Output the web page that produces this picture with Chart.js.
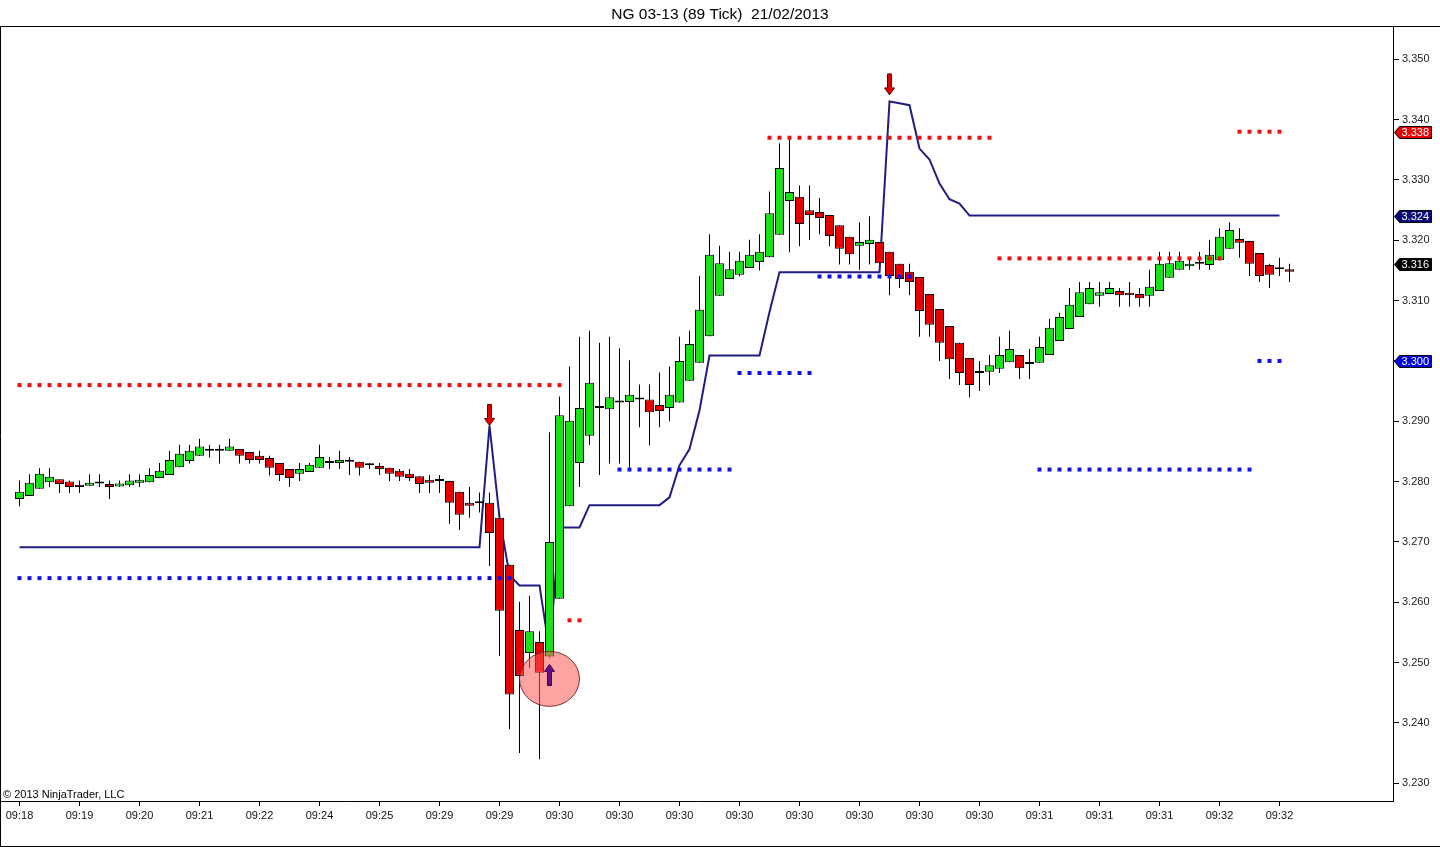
<!DOCTYPE html>
<html>
<head>
<meta charset="utf-8">
<title>NG 03-13 (89 Tick) 21/02/2013</title>
<script src="https://cdn.jsdelivr.net/npm/chart.js@4.4.1/dist/chart.umd.min.js"></script>
<style>
  html, body { margin: 0; padding: 0; background: #fff; }
  canvas { display: block; }
</style>
</head>
<body>
<canvas id="ngChart" width="1440" height="847"></canvas>
<script>
// x axis labels, one every 6 bars
const timeLabels = ['09:18','09:19','09:20','09:21','09:22','09:24','09:25','09:29','09:29','09:30','09:30',
  '09:30','09:30','09:30','09:30','09:30','09:30','09:31','09:31','09:31','09:32','09:32'];
const barsPerLabel = 6;

// 89 tick bars
const opens = [3.2771,3.2776,3.2788,3.2799,3.2804,3.2800,3.2795,3.2793,3.2797,3.2796,
  3.2792,3.2794,3.2798,3.2799,3.2806,3.2811,3.2824,3.2834,3.2843,3.2851,
  3.2851,3.2851,3.2854,3.2849,3.2843,3.2839,3.2831,3.2821,3.2813,3.2816,
  3.2823,3.2831,3.2831,3.2833,3.2833,3.2827,3.2826,3.2823,3.2818,3.2813,
  3.2809,3.2803,3.2801,3.2801,3.2783,3.2765,3.2764,3.2765,3.2740,3.2662,
  3.2554,3.2516,3.2534,3.2510,3.2606,3.2759,3.2831,3.2876,3.2922,3.2920,
  3.2931,3.2932,3.2936,3.2936,3.2927,3.2922,3.2931,3.2967,3.2997,3.3041,
  3.3108,3.3136,3.3143,3.3154,3.3164,3.3172,3.3209,3.3265,3.3272,3.3250,
  3.3247,3.3242,3.3225,3.3206,3.3191,3.3194,3.3197,3.3181,3.3161,3.3148,
  3.3139,3.3111,3.3086,3.3058,3.3030,3.3005,3.2983,3.2982,3.2987,3.2998,
  3.3010,3.2998,3.2997,3.3010,3.3033,3.3053,3.3073,3.3094,3.3108,3.3111,
  3.3116,3.3113,3.3111,3.3108,3.3116,3.3138,3.3151,3.3157,3.3161,3.3159,
  3.3167,3.3186,3.3202,3.3199,3.3179,3.3159,3.3152,3.3152];
const highs = [3.2802,3.2812,3.2822,3.2822,3.2804,3.2802,3.2802,3.2812,3.2812,3.2802,
  3.2802,3.2812,3.2812,3.2822,3.2831,3.2851,3.2861,3.2861,3.2871,3.2861,
  3.2861,3.2871,3.2854,3.2849,3.2851,3.2843,3.2831,3.2821,3.2831,3.2831,
  3.2861,3.2841,3.2851,3.2841,3.2833,3.2831,3.2831,3.2823,3.2821,3.2821,
  3.2809,3.2811,3.2811,3.2801,3.2783,3.2791,3.2782,3.2782,3.2740,3.2662,
  3.2601,3.2611,3.2552,3.2882,3.2941,3.2991,3.3040,3.3050,3.3030,3.3040,
  3.3021,3.3001,3.2961,3.2961,3.2981,3.2991,3.3040,3.3050,3.3141,3.3210,
  3.3191,3.3181,3.3181,3.3201,3.3210,3.3281,3.3361,3.3368,3.3291,3.3291,
  3.3270,3.3242,3.3225,3.3206,3.3230,3.3240,3.3197,3.3181,3.3161,3.3161,
  3.3139,3.3111,3.3086,3.3058,3.3030,3.3005,3.3000,3.3010,3.3040,3.3050,
  3.3010,3.3020,3.3040,3.3070,3.3080,3.3121,3.3131,3.3131,3.3131,3.3131,
  3.3121,3.3131,3.3121,3.3151,3.3181,3.3181,3.3181,3.3171,3.3181,3.3201,
  3.3220,3.3230,3.3220,3.3199,3.3179,3.3161,3.3171,3.3161];
const lows = [3.2759,3.2776,3.2788,3.2791,3.2781,3.2781,3.2781,3.2793,3.2791,3.2771,
  3.2791,3.2791,3.2791,3.2799,3.2806,3.2811,3.2824,3.2830,3.2843,3.2840,
  3.2830,3.2851,3.2830,3.2830,3.2830,3.2810,3.2801,3.2791,3.2801,3.2816,
  3.2823,3.2821,3.2821,3.2811,3.2810,3.2821,3.2811,3.2801,3.2801,3.2801,
  3.2781,3.2781,3.2781,3.2730,3.2720,3.2740,3.2749,3.2660,3.2511,3.2390,
  3.2350,3.2491,3.2340,3.2510,3.2606,3.2759,3.2791,3.2861,3.2811,3.2830,
  3.2830,3.2823,3.2890,3.2860,3.2890,3.2900,3.2931,3.2967,3.2997,3.3041,
  3.3108,3.3136,3.3140,3.3154,3.3150,3.3172,3.3209,3.3180,3.3190,3.3201,
  3.3210,3.3190,3.3160,3.3160,3.3151,3.3160,3.3162,3.3109,3.3121,3.3109,
  3.3040,3.3040,3.3000,3.2970,3.2960,3.2940,3.2950,3.2960,3.2980,3.2998,
  3.2970,3.2970,3.2997,3.3010,3.3033,3.3053,3.3073,3.3094,3.3090,3.3111,
  3.3090,3.3090,3.3090,3.3090,3.3116,3.3138,3.3151,3.3151,3.3151,3.3151,
  3.3167,3.3186,3.3171,3.3141,3.3131,3.3121,3.3141,3.3131];
const closes = [3.2783,3.2798,3.2813,3.2808,3.2796,3.2791,3.2791,3.2798,3.2797,3.2791,
  3.2797,3.2802,3.2803,3.2811,3.2818,3.2836,3.2846,3.2851,3.2858,3.2851,
  3.2851,3.2858,3.2843,3.2836,3.2836,3.2823,3.2811,3.2806,3.2821,3.2828,
  3.2841,3.2831,3.2836,3.2833,3.2823,3.2827,3.2821,3.2813,3.2808,3.2806,
  3.2796,3.2798,3.2801,3.2765,3.2745,3.2760,3.2764,3.2715,3.2586,3.2447,
  3.2478,3.2552,3.2483,3.2700,3.2910,3.2901,3.2922,3.2964,3.2922,3.2940,
  3.2931,3.2944,3.2936,3.2915,3.2917,3.2944,3.3000,3.3028,3.3085,3.3176,
  3.3162,3.3152,3.3166,3.3176,3.3181,3.3245,3.3320,3.3280,3.3227,3.3242,
  3.3237,3.3207,3.3186,3.3177,3.3197,3.3201,3.3162,3.3141,3.3136,3.3131,
  3.3083,3.3060,3.3030,3.3003,3.2980,3.2960,3.2980,3.2993,3.3010,3.3020,
  3.2988,3.2995,3.3023,3.3055,3.3073,3.3093,3.3114,3.3121,3.3114,3.3121,
  3.3109,3.3109,3.3104,3.3123,3.3161,3.3162,3.3166,3.3161,3.3161,3.3176,
  3.3206,3.3217,3.3196,3.3161,3.3141,3.3143,3.3152,3.3148];

// trailing stop line, bars 0..126
const trailStop = [3.2691,3.2691,3.2691,3.2691,3.2691,3.2691,3.2691,3.2691,3.2691,3.2691,
  3.2691,3.2691,3.2691,3.2691,3.2691,3.2691,3.2691,3.2691,3.2691,3.2691,
  3.2691,3.2691,3.2691,3.2691,3.2691,3.2691,3.2691,3.2691,3.2691,3.2691,
  3.2691,3.2691,3.2691,3.2691,3.2691,3.2691,3.2691,3.2691,3.2691,3.2691,
  3.2691,3.2691,3.2691,3.2691,3.2691,3.2691,3.2691,3.2893,3.2741,3.2645,
  3.2628,3.2628,3.2628,3.2519,3.2724,3.2724,3.2724,3.2761,3.2761,3.2761,
  3.2761,3.2761,3.2761,3.2761,3.2761,3.2774,3.2827,3.2854,3.2918,3.3009,
  3.3009,3.3009,3.3009,3.3009,3.3009,3.3081,3.3147,3.3147,3.3147,3.3147,
  3.3147,3.3147,3.3147,3.3147,3.3147,3.3147,3.3147,3.3430,3.3427,3.3424,
  3.3352,3.3334,3.3294,3.3268,3.3261,3.3241,3.3241,3.3241,3.3241,3.3241,
  3.3241,3.3241,3.3241,3.3241,3.3241,3.3241,3.3241,3.3241,3.3241,3.3241,
  3.3241,3.3241,3.3241,3.3241,3.3241,3.3241,3.3241,3.3241,3.3241,3.3241,
  3.3241,3.3241,3.3241,3.3241,3.3241,3.3241,3.3241];

// dotted levels: [first bar, last bar, price]
const resistanceLevels = [[0, 54, 3.296], [55, 56, 3.257], [75, 97, 3.337], [98, 120, 3.317], [122, 126, 3.338]];
const supportLevels = [[0, 49, 3.264], [60, 71, 3.282], [72, 79, 3.298], [80, 89, 3.314], [102, 123, 3.282], [124, 126, 3.300]];

// signals
const sellBars = [47, 87];
const sellPrices = [3.2893, 3.3441];
const buyBars = [53];
const buyPrices = [3.2497];
const highlightBar = 53;
const highlightPrice = 3.2473;

// right axis
const priceTicks = [3.230, 3.240, 3.250, 3.260, 3.270, 3.280, 3.290, 3.300, 3.310, 3.320, 3.330, 3.340, 3.350];
const flagPrices = [3.338, 3.324, 3.316, 3.300];

const FONT = "'Liberation Sans', Arial, Helvetica, sans-serif";
const upColor = '#17e317';
const downColor = '#e60000';
const flagColors = ['#e60000', '#0a0a78', '#000000', '#0000e0'];

const wickData = opens.map((o, i) => ({x: i, y: [lows[i], highs[i]]}));
const bodyData = opens.map((o, i) => ({x: i, y: [o, closes[i]]}));
const bodyColors = opens.map((o, i) => closes[i] > o ? upColor : (closes[i] < o ? downColor : '#000'));
const trailData = trailStop.map((v, i) => ({x: i, y: v}));

function levelDots(levels) {
    const pts = [];
    levels.forEach(([a, b, p]) => {
        for (let i = a; i <= b; i++) pts.push({x: i, y: p});
    });
    return pts;
}

function drawArrow(ctx, px, tipY, dir, fill, stroke) {
    // dir 1 points down, -1 points up
    const headLen = 7, headHalf = 5, shaftHalf = 2, shaftLen = 14;
    ctx.beginPath();
    ctx.moveTo(px, tipY);
    ctx.lineTo(px - headHalf, tipY - dir * headLen);
    ctx.lineTo(px - shaftHalf, tipY - dir * headLen);
    ctx.lineTo(px - shaftHalf, tipY - dir * (headLen + shaftLen));
    ctx.lineTo(px + shaftHalf, tipY - dir * (headLen + shaftLen));
    ctx.lineTo(px + shaftHalf, tipY - dir * headLen);
    ctx.lineTo(px + headHalf, tipY - dir * headLen);
    ctx.closePath();
    ctx.fillStyle = fill;
    ctx.fill();
    ctx.strokeStyle = stroke;
    ctx.lineWidth = 1;
    ctx.stroke();
}

const overlay = {
    id: 'overlay',
    afterDatasetsDraw(chart) {
        const {ctx, chartArea, scales: {x, y}} = chart;
        ctx.save();
        ctx.beginPath();
        ctx.rect(chartArea.left, chartArea.top, chartArea.width, chartArea.height);
        ctx.clip();

        // highlight circle
        ctx.beginPath();
        ctx.ellipse(x.getPixelForValue(highlightBar), y.getPixelForValue(highlightPrice), 30, 27.5, 0, 0, Math.PI * 2);
        ctx.fillStyle = 'rgba(255,85,85,0.55)';
        ctx.fill();
        ctx.strokeStyle = 'rgba(110,30,30,0.9)';
        ctx.lineWidth = 1;
        ctx.stroke();

        sellBars.forEach((b, k) => drawArrow(ctx, x.getPixelForValue(b), y.getPixelForValue(sellPrices[k]), 1, '#e00000', '#6a0000'));
        buyBars.forEach((b, k) => drawArrow(ctx, x.getPixelForValue(b), y.getPixelForValue(buyPrices[k]), -1, '#6a0a8c', '#2e0040'));

        ctx.fillStyle = '#000';
        ctx.font = '11px ' + FONT;
        ctx.textAlign = 'left';
        ctx.textBaseline = 'alphabetic';
        ctx.fillText('\u00a9 2013 NinjaTrader, LLC', chartArea.left + 2, chartArea.bottom - 3);
        ctx.restore();
    },
    afterDraw(chart) {
        const {ctx, chartArea, scales: {y}} = chart;
        const W = chart.width, H = chart.height;
        ctx.save();
        ctx.strokeStyle = '#000';
        ctx.lineWidth = 1;
        ctx.beginPath();
        ctx.moveTo(0, chartArea.top - 0.5);
        ctx.lineTo(W, chartArea.top - 0.5);
        ctx.moveTo(0.5, chartArea.top - 1);
        ctx.lineTo(0.5, H);
        ctx.moveTo(0, H - 0.5);
        ctx.lineTo(W, H - 0.5);
        ctx.stroke();

        // price flags on the right axis
        ctx.font = '11px ' + FONT;
        ctx.textAlign = 'left';
        ctx.textBaseline = 'middle';
        flagPrices.forEach((p, k) => {
            const py = Math.round(y.getPixelForValue(p)) + 0.5;
            const x0 = chartArea.right + 1.5;
            ctx.beginPath();
            ctx.moveTo(x0, py);
            ctx.lineTo(x0 + 5, py - 6);
            ctx.lineTo(x0 + 37, py - 6);
            ctx.lineTo(x0 + 37, py + 6);
            ctx.lineTo(x0 + 5, py + 6);
            ctx.closePath();
            ctx.fillStyle = flagColors[k];
            ctx.fill();
            ctx.strokeStyle = '#000';
            ctx.stroke();
            ctx.fillStyle = '#fff';
            ctx.fillText(p.toFixed(3), x0 + 7, py + 0.5);
        });
        ctx.restore();
    }
};

Chart.defaults.font.family = FONT;

const ctxNG = document.getElementById('ngChart').getContext('2d');
const ngChart = new Chart(ctxNG, {
    type: 'bar',
    data: {
        datasets: [
            {
                type: 'line',
                data: trailData,
                borderColor: '#1e1e82',
                borderWidth: 2,
                pointRadius: 0,
                tension: 0,
                order: 4
            },
            {
                type: 'bar',
                data: wickData,
                backgroundColor: '#000',
                barThickness: 1,
                grouped: false,
                inflateAmount: 0,
                minBarLength: 1,
                order: 3
            },
            {
                type: 'bar',
                data: bodyData,
                backgroundColor: bodyColors,
                borderColor: '#000',
                borderWidth: 1,
                borderSkipped: false,
                barThickness: 9,
                grouped: false,
                inflateAmount: 0,
                minBarLength: 2,
                order: 2
            },
            {
                type: 'line',
                data: levelDots(resistanceLevels),
                showLine: false,
                pointStyle: 'rect',
                pointRadius: 2.83,
                pointBorderWidth: 0,
                pointBackgroundColor: '#e81010',
                order: 1
            },
            {
                type: 'line',
                data: levelDots(supportLevels),
                showLine: false,
                pointStyle: 'rect',
                pointRadius: 2.83,
                pointBorderWidth: 0,
                pointBackgroundColor: '#1010e6',
                order: 1
            }
        ]
    },
    options: {
        responsive: false,
        animation: false,
        devicePixelRatio: 1,
        events: [],
        layout: { autoPadding: false, padding: { left: 1, right: 1, top: 0, bottom: 1 } },
        plugins: {
            legend: { display: false },
            tooltip: { enabled: false },
            title: {
                display: true,
                text: 'NG 03-13 (89 Tick)  21/02/2013',
                color: '#000',
                font: { size: 15.5, weight: 'normal' },
                padding: { top: 5, bottom: 3.4 }
            }
        },
        scales: {
            x: {
                type: 'linear',
                min: -1.85,
                max: 137.35,
                offset: false,
                grid: { offset: false, drawOnChartArea: false, drawTicks: true, tickLength: 5, color: '#000' },
                border: { display: true, color: '#000' },
                afterBuildTicks: s => { s.ticks = timeLabels.map((t, k) => ({value: k * barsPerLabel})); },
                afterFit: s => { s.height = 45; s.paddingLeft = 0; s.paddingRight = 0; },
                ticks: {
                    autoSkip: false,
                    maxRotation: 0,
                    padding: 3,
                    color: '#111',
                    font: { size: 11 },
                    callback: (v, i) => timeLabels[i]
                }
            },
            y: {
                type: 'linear',
                position: 'right',
                min: 3.22706,
                max: 3.355354,
                grid: { drawOnChartArea: false, drawTicks: true, tickLength: 6, color: '#000' },
                border: { display: true, color: '#000' },
                afterBuildTicks: s => { s.ticks = priceTicks.map(v => ({value: v})); },
                afterFit: s => { s.width = 46; s.paddingTop = 0; s.paddingBottom = 0; },
                ticks: {
                    padding: 3,
                    color: '#222',
                    font: { size: 11 },
                    callback: v => v.toFixed(3)
                }
            }
        }
    },
    plugins: [overlay]
});
</script>
</body>
</html>
